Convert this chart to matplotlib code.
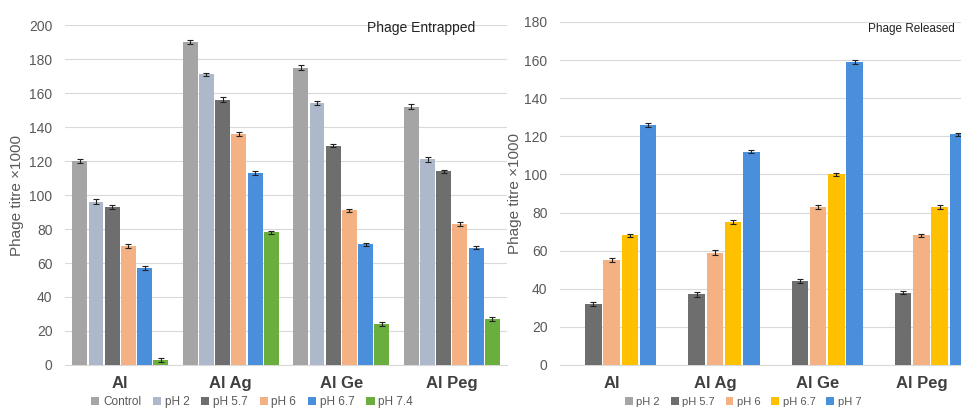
import numpy as np
import matplotlib
matplotlib.use('Agg')
import matplotlib.pyplot as plt

plt.rcParams['font.family'] = ['Liberation Sans', 'DejaVu Sans']

groups = ['Al', 'Al Ag', 'Al Ge', 'Al Peg']

# Phage entrapped (titre x1000)
ent_series = ['Control', 'pH 2', 'pH 5.7', 'pH 6', 'pH 6.7', 'pH 7.4']
ent_colors = ['#A5A5A5', '#ADB9CA', '#6E6E6E', '#F4B183', '#4A8FDB', '#6AAF3D']
ent_vals = [
    [120, 190, 175, 152],   # Control
    [96, 171, 154, 121],    # pH 2
    [93, 156, 129, 114],    # pH 5.7
    [70, 136, 91, 83],      # pH 6
    [57, 113, 71, 69],      # pH 6.7
    [3, 78, 24, 27],        # pH 7.4
]
ent_err = [
    [1, 1, 1.5, 1.5],
    [1.5, 1, 1.2, 1.5],
    [1.2, 1.5, 1, 1],
    [1, 1, 1, 1],
    [1, 1, 1, 1],
    [1, 1, 1, 1],
]

# Phage released (titre x1000)
rel_series = ['pH 2', 'pH 5.7', 'pH 6', 'pH 6.7', 'pH 7']
rel_colors = ['#A5A5A5', '#6E6E6E', '#F4B183', '#FFC000', '#4A8FDB']
rel_vals = [
    [0, 0, 0, 0],           # pH 2
    [32, 37, 44, 38],       # pH 5.7
    [55, 59, 83, 68],       # pH 6
    [68, 75, 100, 83],      # pH 6.7
    [126, 112, 159, 121],   # pH 7
]
rel_err = [
    [0, 0, 0, 0],
    [1, 1.5, 1, 1],
    [1, 1.5, 1, 1],
    [1, 1, 1, 1],
    [1, 1, 1, 1],
]

fig = plt.figure(figsize=(9.62, 4.08), dpi=100)
ax1 = fig.add_axes([0.0676, 0.1054, 0.4595, 0.8333])
ax2 = fig.add_axes([0.5821, 0.1054, 0.4293, 0.8407])

tick_col = '#595959'
grid_col = '#D9D9D9'


def draw_panel(ax, series, colors, vals, errs, slot, bw, ymax):
    x = np.arange(len(groups))
    n = len(series)
    handles = []
    for i in range(n):
        off = (i - (n - 1) / 2) * slot
        b = ax.bar(x + off, vals[i], width=bw, color=colors[i], label=series[i], zorder=3)
        handles.append(b)
        v = np.array(vals[i], dtype=float)
        e = np.array(errs[i], dtype=float)
        m = v > 0
        ax.errorbar((x + off)[m], v[m], yerr=e[m], fmt='none', ecolor='#222222',
                    elinewidth=0.8, capsize=2, capthick=0.8, zorder=4)
    ax.set_xlim(-0.5, len(groups) - 0.5)
    ax.set_ylim(0, ymax)
    ax.set_yticks(np.arange(0, ymax + 1, 20))
    ax.yaxis.grid(True, color=grid_col, linewidth=0.8, zorder=0)
    for s in ['top', 'right', 'left']:
        ax.spines[s].set_visible(False)
    ax.spines['bottom'].set_color(grid_col)
    ax.spines['bottom'].set_zorder(1)
    ax.set_xticks(x)
    ax.set_xticklabels(groups, fontsize=12, fontweight='bold', color='#404040')
    ax.tick_params(axis='x', length=0, pad=8)
    ax.tick_params(axis='y', length=0, pad=9, labelsize=10, labelcolor=tick_col)
    ax.set_ylabel('Phage titre \u00d71000', fontsize=11, color=tick_col)
    return handles


h1 = draw_panel(ax1, ent_series, ent_colors, ent_vals, ent_err, 0.1466, 0.135, 200)
h2 = draw_panel(ax2, rel_series, rel_colors, rel_vals, rel_err, 0.177, 0.16, 180)
ax1.yaxis.set_label_coords(-0.093, 0.5)
ax2.yaxis.set_label_coords(-0.092, 0.5)

fig.text(421 / 962, 1 - 28 / 408, 'Phage Entrapped', fontsize=10, color='#222222',
         ha='center', va='center')
fig.text(911 / 962, 1 - 29 / 408, 'Phage Released', fontsize=8.5, color='#222222',
         ha='center', va='center')

leg_kw = dict(loc='center', ncol=6, frameon=False, fontsize=8.5, handlelength=0.7,
              handleheight=0.7, handletextpad=0.3, columnspacing=1.0,
              labelcolor=tick_col, borderpad=0)
fig.legend(h1, ent_series, bbox_to_anchor=(252 / 962, 1 - 402 / 408), **leg_kw)
leg_kw['ncol'] = 5
leg_kw['fontsize'] = 8
fig.legend(h2, rel_series, bbox_to_anchor=(743 / 962, 1 - 402 / 408), **leg_kw)

fig.savefig('out.png', dpi=100)
